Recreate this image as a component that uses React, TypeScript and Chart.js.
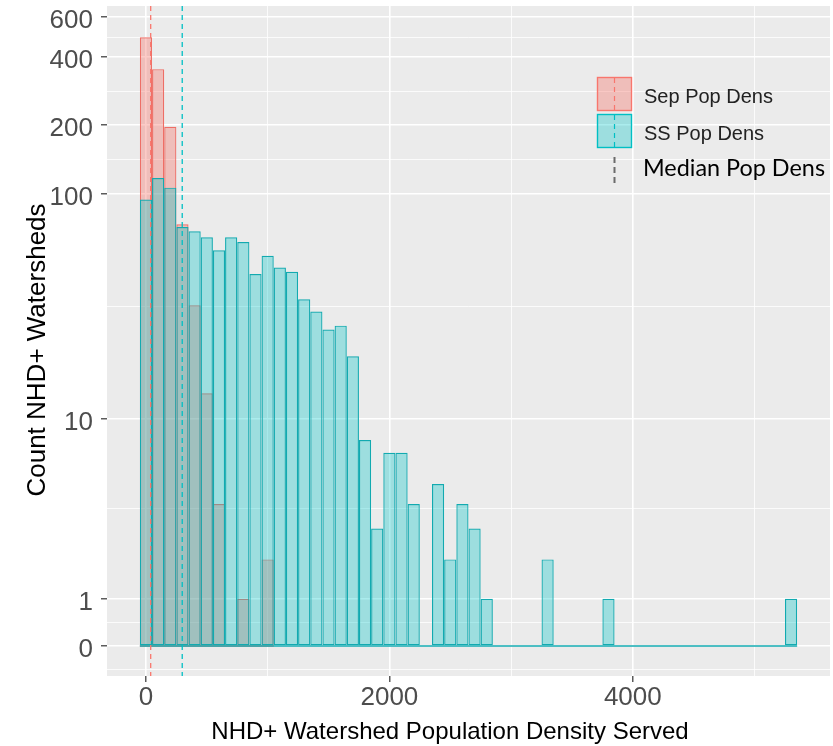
import React, { useEffect, useRef } from 'react';
import { Chart, registerables, LinearScale } from 'chart.js';

Chart.register(...registerables);

// ---- data ----
const binCenters = [
  0, 100, 200, 300, 400, 500, 600, 700, 800, 900, 1000, 1100, 1200, 1300, 1400, 1500, 1600, 1700,
  1800, 1900, 2000, 2100, 2200, 2300, 2400, 2500, 2600, 2700, 2800, 2900, 3000, 3100, 3200, 3300,
  3400, 3500, 3600, 3700, 3800, 3900, 4000, 4100, 4200, 4300, 4400, 4500, 4600, 4700, 4800, 4900,
  5000, 5100, 5200, 5300,
];
const ssCounts = [
  94, 117, 106, 71, 68, 64, 56, 64, 61, 44, 53, 47, 45, 34, 30, 25, 26, 19,
  8, 3, 7, 7, 4, 0, 5, 2, 4, 3, 1, 0, 0, 0, 0, 2,
  0, 0, 0, 0, 1, 0, 0, 0, 0, 0, 0, 0, 0, 0, 0, 0,
  0, 0, 0, 1,
];
const sepBinCenters = [0, 100, 200, 300, 400, 500, 600, 700, 800, 900, 1000];
const sepCounts = [490, 354, 197, 73, 32, 13, 4, 0, 1, 0, 2];
const binWidth = 100;

const sepMedian = 39;
const ssMedian = 298;

const yTickValues = [0, 1, 10, 100, 200, 400, 600];
const xTickValues = [0, 2000, 4000];
const xMinorValues = [1000, 3000, 5000];

const xTitle = 'NHD+ Watershed Population Density Served';
const yTitle = 'Count NHD+ Watersheds';
const sepLabel = 'Sep Pop Dens';
const ssLabel = 'SS Pop Dens';
const medianLabel = 'Median Pop Dens';

const xMin = -320;
const xMax = 5620;
const yMin = -0.62;
const yMax = 673;

// ---- colours ----
const sepColor = '#F8766D';
const ssColor = '#00BFC4';
const ssBorder = '#12AAB0';
const sepBorder = '#EE6E66';
const sepFill = 'rgba(248,118,109,0.38)';
const ssFill = 'rgba(0,196,200,0.33)';
const panelColor = '#EBEBEB';
const tickTextColor = '#4D4D4D';
const SANS = "'Liberation Sans', Arial, sans-serif";

// ---- pseudo-log (asinh) scale, like ggplot's pseudo_log_trans ----
const tf = (v: number) => Math.asinh(v / 2);
const itf = (t: number) => 2 * Math.sinh(t);

const yMinorValues: number[] = (() => {
  const out: number[] = [];
  const step0 = tf(yTickValues[1]) - tf(yTickValues[0]);
  out.push(itf(tf(yTickValues[0]) - step0 / 2));
  for (let i = 0; i < yTickValues.length - 1; i++) {
    out.push(itf((tf(yTickValues[i]) + tf(yTickValues[i + 1])) / 2));
  }
  return out.filter((v) => v > yMin && v < yMax);
})();
const yGridValues = [...yTickValues, ...yMinorValues].sort((a, b) => a - b);

class PseudoLogScale extends (LinearScale as any) {
  static id = 'pseudoLog';
  static defaults = {};
  determineDataLimits() {
    const o: any = (this as any).options;
    (this as any).min = o.min;
    (this as any).max = o.max;
  }
  buildTicks() {
    return yGridValues.map((value) => ({ value }));
  }
  configure() {
    super.configure();
    const self: any = this;
    self._startValue = tf(self.min);
    self._endValue = tf(self.max);
    self._valueRange = self._endValue - self._startValue;
  }
  getPixelForValue(value: number) {
    const self: any = this;
    return self.getPixelForDecimal((tf(value) - self._startValue) / self._valueRange);
  }
  getValueForPixel(pixel: number) {
    const self: any = this;
    return itf(self._startValue + self.getDecimalForPixel(pixel) * self._valueRange);
  }
}
Chart.register(PseudoLogScale as any);

// ---- plugins ----
const panelBg = {
  id: 'panelBg',
  beforeDraw(chart: any) {
    const { ctx, chartArea: a } = chart;
    ctx.save();
    ctx.fillStyle = panelColor;
    ctx.fillRect(a.left, a.top, a.right - a.left, a.bottom - a.top);
    ctx.restore();
  },
};

const medianLines = {
  id: 'medianLines',
  afterDatasetsDraw(chart: any) {
    const { ctx, chartArea: a, scales } = chart;
    ctx.save();
    ctx.lineWidth = 1.3;
    ctx.setLineDash([5, 4]);
    [
      { v: sepMedian, c: sepColor },
      { v: ssMedian, c: ssColor },
    ].forEach(({ v, c }) => {
      const x = scales.x.getPixelForValue(v);
      ctx.strokeStyle = c;
      ctx.beginPath();
      ctx.moveTo(x, a.top);
      ctx.lineTo(x, a.bottom);
      ctx.stroke();
    });
    ctx.restore();
  },
};

const axisTitles = {
  id: 'axisTitles',
  afterDraw(chart: any) {
    const { ctx } = chart;
    ctx.save();
    ctx.fillStyle = '#000';
    ctx.font = `24px ${SANS}`;
    ctx.textAlign = 'center';
    ctx.textBaseline = 'alphabetic';
    ctx.fillText(xTitle, 450, 739);
    ctx.translate(45, 350);
    ctx.rotate(-Math.PI / 2);
    ctx.font = `26px ${SANS}`;
    ctx.fillText(yTitle, 0, 0);
    ctx.restore();
  },
};

const legendPlugin = {
  id: 'customLegend',
  afterDraw(chart: any) {
    const { ctx } = chart;
    ctx.save();
    const keyX = 597;
    const keyW = 35;
    const items = [
      { label: sepLabel, fill: sepFill, stroke: sepColor, y: 77 },
      { label: ssLabel, fill: ssFill, stroke: ssColor, y: 114 },
    ];
    items.forEach((it) => {
      ctx.fillStyle = it.fill;
      ctx.fillRect(keyX, it.y, keyW, 34);
      ctx.strokeStyle = it.stroke;
      ctx.lineWidth = 1.4;
      ctx.setLineDash([]);
      ctx.strokeRect(keyX + 0.5, it.y + 0.5, keyW - 1, 33);
      ctx.lineWidth = 1.2;
      ctx.setLineDash([5, 4]);
      ctx.beginPath();
      ctx.moveTo(keyX + keyW / 2, it.y + 1);
      ctx.lineTo(keyX + keyW / 2, it.y + 33);
      ctx.stroke();
      ctx.setLineDash([]);
      ctx.fillStyle = '#222';
      ctx.font = `20px ${SANS}`;
      ctx.textAlign = 'left';
      ctx.textBaseline = 'middle';
      ctx.fillText(it.label, 644, it.y + 20);
    });
    // median key
    ctx.strokeStyle = '#6b6b6b';
    ctx.lineWidth = 2;
    ctx.setLineDash([6, 4]);
    ctx.beginPath();
    ctx.moveTo(keyX + keyW / 2, 157);
    ctx.lineTo(keyX + keyW / 2, 187);
    ctx.stroke();
    ctx.setLineDash([]);
    ctx.font = `22px Lato, 'Open Sans', sans-serif`;
    const w = ctx.measureText(medianLabel).width;
    const size = (22 * 182) / w;
    ctx.font = `${size.toFixed(1)}px Lato, 'Open Sans', sans-serif`;
    ctx.fillStyle = '#000';
    ctx.textAlign = 'left';
    ctx.textBaseline = 'alphabetic';
    ctx.fillText(medianLabel, 643, 176);
    ctx.restore();
  },
};

export default function App() {
  const ref = useRef<HTMLCanvasElement>(null);
  useEffect(() => {
    const canvas = ref.current;
    if (!canvas) return;
    const barCommon = {
      type: 'bar' as const,
      borderWidth: 1.2,
      borderSkipped: false,
      grouped: false,
      barPercentage: 1,
      categoryPercentage: 1,
      inflateAmount: 0,
    };
    const chart = new Chart(canvas, {
      type: 'bar',
      data: {
        datasets: [
          {
            type: 'line',
            data: [
              { x: binCenters[0] - binWidth / 2, y: 0 },
              { x: binCenters[binCenters.length - 1] + binWidth / 2, y: 0 },
            ],
            borderColor: ssBorder,
            borderWidth: 1.5,
            pointRadius: 0,
            order: 0,
          } as any,
          {
            ...barCommon,
            data: binCenters.map((x, i) => ({ x, y: ssCounts[i] })),
            backgroundColor: ssFill,
            borderColor: ssBorder,
            order: 1,
          } as any,
          {
            type: 'line',
            data: [
              { x: sepBinCenters[0] - binWidth / 2, y: 0 },
              { x: sepBinCenters[sepBinCenters.length - 1] + binWidth / 2, y: 0 },
            ],
            borderColor: sepBorder,
            borderWidth: 1.5,
            pointRadius: 0,
            order: 2,
          } as any,
          {
            ...barCommon,
            data: sepBinCenters.map((x, i) => ({ x, y: sepCounts[i] })),
            backgroundColor: sepFill,
            borderColor: sepBorder,
            order: 3,
          } as any,
        ],
      },
      options: {
        responsive: false,
        animation: false,
        devicePixelRatio: 1,
        layout: { autoPadding: false, padding: { left: 0, top: 6, right: 3, bottom: 0 } },
        plugins: { legend: { display: false }, tooltip: { enabled: false } },
        scales: {
          x: {
            type: 'linear',
            position: 'bottom',
            offset: false,
            min: xMin,
            max: xMax,
            afterFit: (s: any) => {
              s.height = 70;
              s.paddingLeft = 0;
              s.paddingRight = 0;
            },
            afterBuildTicks: (s: any) => {
              s.ticks = [...xTickValues, ...xMinorValues].sort((a, b) => a - b).map((value) => ({ value }));
            },
            border: { display: false },
            grid: {
              offset: false,
              color: '#FFFFFF',
              lineWidth: (c: any) => (xTickValues.includes(c.tick?.value) ? 1.6 : 0.8),
              tickColor: (c: any) => (xTickValues.includes(c.tick?.value) ? '#333333' : 'rgba(0,0,0,0)'),
              tickLength: 6,
              tickWidth: 1.2,
            },
            ticks: {
              autoSkip: false,
              maxRotation: 0,
              minRotation: 0,
              padding: 3,
              color: tickTextColor,
              font: { family: SANS, size: 26, lineHeight: 1 },
              callback: (v: any) => (xTickValues.includes(v) ? String(v) : ''),
            },
          },
          y: {
            type: 'pseudoLog' as any,
            min: yMin,
            max: yMax,
            afterFit: (s: any) => {
              s.width = 107;
              s.paddingTop = 0;
              s.paddingBottom = 0;
            },
            border: { display: false },
            grid: {
              color: '#FFFFFF',
              lineWidth: (c: any) => (yTickValues.includes(c.tick?.value) ? 1.6 : 0.8),
              tickColor: (c: any) => (yTickValues.includes(c.tick?.value) ? '#333333' : 'rgba(0,0,0,0)'),
              tickLength: 6,
              tickWidth: 1.2,
            },
            ticks: {
              autoSkip: false,
              padding: 8,
              labelOffset: 4,
              color: tickTextColor,
              font: { family: SANS, size: 26, lineHeight: 1 },
              callback: (v: any) => (yTickValues.includes(v) ? String(v) : ''),
            },
          } as any,
        },
      } as any,
      plugins: [panelBg, medianLines, axisTitles, legendPlugin],
    });
    return () => chart.destroy();
  }, []);
  return (
    <div style={{ position: 'absolute', left: 0, top: 0, width: 833, height: 746 }}>
      <canvas ref={ref} width={833} height={746} style={{ display: 'block' }} />
    </div>
  );
}
